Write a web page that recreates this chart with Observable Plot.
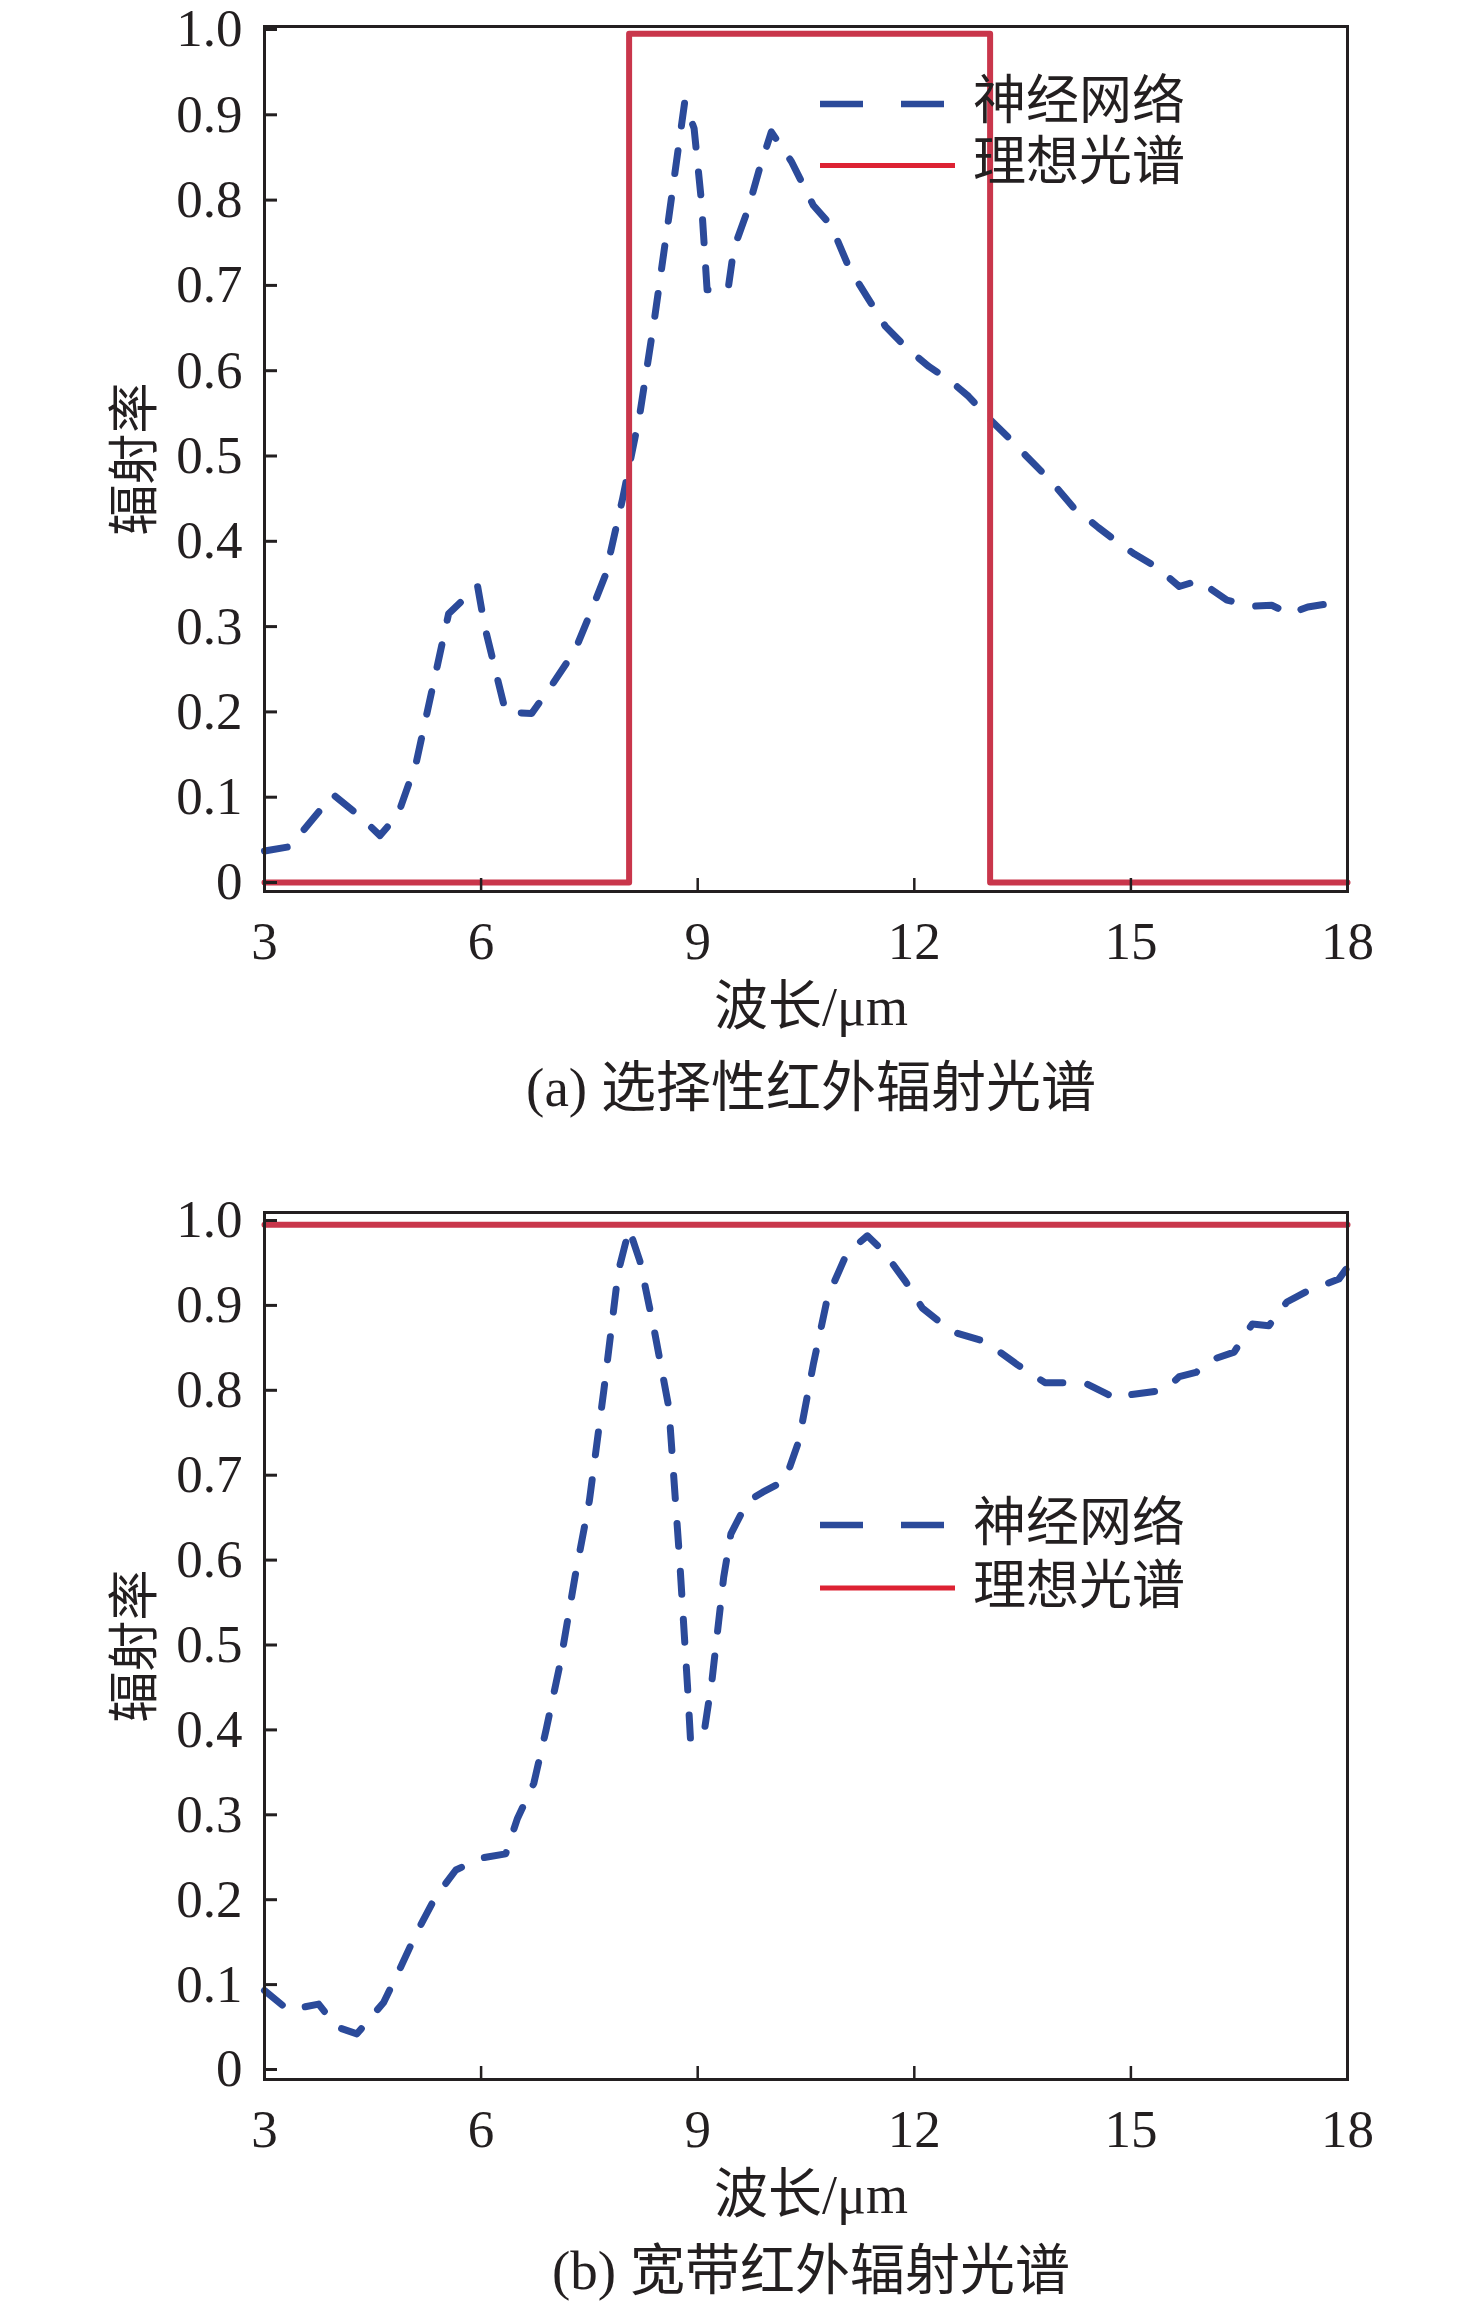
<!DOCTYPE html>
<html><head><meta charset="utf-8">
<script src="https://cdn.jsdelivr.net/npm/d3@7"></script>
<script src="https://cdn.jsdelivr.net/npm/@observablehq/plot@0.6"></script>
<style>
html,body{margin:0;padding:0;background:#fff;}
#root{position:relative;width:1476px;height:2301px;overflow:hidden;color:#231f20;font-family:"Liberation Serif","Noto Sans CJK SC",serif;}
.abs{position:absolute;white-space:nowrap;line-height:1;}
.cjk{font-family:"Noto Sans CJK SC",sans-serif;}
</style></head>
<body><div id="root"></div>
<script>
// ---- data ----
const xTicks = [3, 6, 9, 12, 15, 18];
const yTicks = [0, 0.1, 0.2, 0.3, 0.4, 0.5, 0.6, 0.7, 0.8, 0.9, 1.0];
const seriesNames = ["神经网络", "理想光谱"];
const xLabel = "波长/μm";
const yLabel = "辐射率";
const captions = ["(a) 选择性红外辐射光谱", "(b) 宽带红外辐射光谱"];

// (a) selective spectrum
const nnA_x = [3.0, 3.35, 3.95, 4.3, 4.6, 4.85, 5.1, 5.55, 5.95, 6.05, 6.2, 6.34, 6.7, 7.0, 7.3, 7.5, 7.72, 7.96, 8.2, 8.4, 8.6, 8.82, 8.95, 9.05, 9.13, 9.42, 9.5, 9.7, 9.85, 10.02, 10.3, 10.6, 10.85, 11.1, 11.35, 11.6, 11.9, 12.2, 12.5, 12.75, 13.0, 13.3, 13.55, 13.9, 14.2, 14.55, 14.8, 15.05, 15.35, 15.67, 15.94, 16.33, 16.7, 16.95, 17.2, 17.45, 17.9, 18.0];
const nnA_y = [0.037, 0.042, 0.103, 0.079, 0.055, 0.08, 0.14, 0.315, 0.348, 0.30, 0.248, 0.2, 0.198, 0.234, 0.272, 0.313, 0.36, 0.45, 0.55, 0.66, 0.78, 0.915, 0.884, 0.8, 0.695, 0.695, 0.743, 0.79, 0.835, 0.88, 0.845, 0.794, 0.77, 0.72, 0.686, 0.652, 0.626, 0.605, 0.588, 0.57, 0.547, 0.522, 0.5, 0.47, 0.44, 0.416, 0.4, 0.385, 0.37, 0.347, 0.354, 0.331, 0.324, 0.325, 0.315, 0.323, 0.329, 0.33];
const idealA_x = [3, 8.05, 8.05, 13.05, 13.05, 18];
const idealA_y = [0, 0, 0.995, 0.995, 0, 0];

// (b) broadband spectrum
const nnB_x = [3.0, 3.33, 3.75, 4.0, 4.28, 4.65, 4.9, 5.1, 5.36, 5.65, 6.0, 6.34, 6.5, 6.73, 6.9, 7.1, 7.3, 7.5, 7.7, 7.9, 8.05, 8.2, 8.4, 8.6, 8.75, 8.86, 8.9, 9.08, 9.2, 9.36, 9.46, 9.69, 9.9, 10.21, 10.4, 10.6, 10.8, 11.07, 11.35, 11.57, 11.88, 12.11, 12.52, 12.92, 13.17, 13.43, 13.81, 14.15, 14.4, 14.8, 15.0, 15.46, 15.67, 15.9, 16.12, 16.43, 16.68, 16.91, 17.16, 17.45, 17.88, 18.0];
const nnB_y = [0.093, 0.07, 0.077, 0.05, 0.042, 0.079, 0.123, 0.16, 0.202, 0.235, 0.249, 0.254, 0.295, 0.337, 0.4, 0.48, 0.58, 0.67, 0.8, 0.94, 0.99, 0.952, 0.87, 0.78, 0.6, 0.45, 0.389, 0.392, 0.46, 0.58, 0.631, 0.669, 0.68, 0.694, 0.74, 0.83, 0.91, 0.962, 0.982, 0.964, 0.928, 0.897, 0.869, 0.859, 0.846, 0.83, 0.809, 0.809, 0.807, 0.79, 0.795, 0.8, 0.816, 0.821, 0.836, 0.845, 0.878, 0.876, 0.904, 0.917, 0.931, 0.945];
const idealB_x = [3, 18];
const idealB_y = [0.995, 0.995];

// ---- style ----
const W = 1476, ML = 264, MR = 129;
const BLUE = "#2b4a9a", RED = "#c9364b", LEGRED = "#dd2233", INK = "#231f20";
const SERIF = "'Liberation Serif','Noto Sans CJK SC',serif";
const root = document.getElementById("root");

function addText(txt, cx, cy, size, cls, rotate) {
  const d = document.createElement("div");
  d.className = "abs " + (cls || "");
  d.textContent = txt;
  d.style.fontSize = size + "px";
  d.style.left = cx + "px";
  d.style.top = cy + "px";
  d.style.transform = "translate(-50%,-50%)" + (rotate ? " rotate(" + rotate + "deg)" : "");
  root.appendChild(d);
}

function panel(o) {
  const nn = o.nnX.map((x, i) => ({x, y: o.nnY[i]}));
  const id = o.idX.map((x, i) => ({x, y: o.idY[i]}));
  const innerW = W - ML - MR;
  const innerH = o.svgH - o.mTop - o.mBottom;
  const chart = Plot.plot({
    width: W, height: o.svgH,
    marginLeft: ML, marginRight: MR, marginTop: o.mTop, marginBottom: o.mBottom,
    style: {fontFamily: SERIF, fontSize: "53px", color: INK, background: "transparent", overflow: "visible"},
    x: {domain: [3, 18], range: [ML, W - MR]},
    y: {domain: [0, 1], range: o.yRange},
    marks: [
      Plot.line(nn, {x: "x", y: "y", stroke: BLUE, strokeWidth: 7, strokeDasharray: "23,25", strokeLinejoin: "round"}),
      Plot.line(id, {x: "x", y: "y", stroke: RED, strokeWidth: 6}),
      Plot.ruleY(yTicks, {stroke: INK, strokeWidth: 3, insetRight: innerW - 13}),
      Plot.ruleX(xTicks, {stroke: INK, strokeWidth: 2.5, insetTop: innerH - 13}),
      Plot.axisY(yTicks, {tickSize: 0, tickPadding: 22, fontSize: 53, label: null,
        tickFormat: d => d === 0 ? "0" : d.toFixed(1)}),
      Plot.axisX(xTicks, {tickSize: 0, tickPadding: 30, fontSize: 53, label: null}),
      Plot.frame({stroke: INK, strokeWidth: 3})
    ]
  });
  chart.style.position = "absolute";
  chart.style.left = "0px";
  chart.style.top = o.top + "px";
  root.appendChild(chart);

  const frameMid = o.top + o.mTop + innerH / 2;
  const frameBottom = o.top + o.svgH - o.mBottom;
  addText(yLabel, 130, frameMid, 51, "cjk", -90);
  addText(xLabel, 811, frameBottom + 116, 54, "");
  addText(o.caption, 811, frameBottom + o.capOff, 55, "");

  // legend swatches
  const ns = "http://www.w3.org/2000/svg";
  const lg = document.createElementNS(ns, "svg");
  lg.setAttribute("width", 150); lg.setAttribute("height", 100);
  lg.style.position = "absolute"; lg.style.left = "815px"; lg.style.top = (o.legY - 20) + "px";
  const l1 = document.createElementNS(ns, "line");
  l1.setAttribute("x1", 5); l1.setAttribute("x2", 129);
  l1.setAttribute("y1", 20); l1.setAttribute("y2", 20);
  l1.setAttribute("stroke", BLUE); l1.setAttribute("stroke-width", 6.5);
  l1.setAttribute("stroke-dasharray", "43,38");
  const l2 = document.createElementNS(ns, "line");
  l2.setAttribute("x1", 5); l2.setAttribute("x2", 140);
  l2.setAttribute("y1", 20 + o.legGap); l2.setAttribute("y2", 20 + o.legGap);
  l2.setAttribute("stroke", LEGRED); l2.setAttribute("stroke-width", 5);
  lg.appendChild(l1); lg.appendChild(l2);
  root.appendChild(lg);
  // legend labels: one block, one line per series
  const t = document.createElement("div");
  t.className = "cjk";
  t.style.position = "absolute";
  t.style.whiteSpace = "pre";
  t.style.fontSize = "53px";
  t.style.lineHeight = o.legGap + "px";
  t.style.left = "973px";
  t.style.top = (o.legY - 4 - o.legGap / 2 - 3) + "px";
  t.textContent = seriesNames.join("\n");
  root.appendChild(t);
}

panel({top: 2, svgH: 980, mTop: 24, mBottom: 91, yRange: [880, 27],
  nnX: nnA_x, nnY: nnA_y, idX: idealA_x, idY: idealA_y,
  caption: captions[0], capOff: 196, legY: 103.7, legGap: 61.5});
panel({top: 1190, svgH: 980, mTop: 22, mBottom: 91, yRange: [879, 30],
  nnX: nnB_x, nnY: nnB_y, idX: idealB_x, idY: idealB_y,
  caption: captions[1], capOff: 191, legY: 1525, legGap: 63});
</script>
</body></html>
